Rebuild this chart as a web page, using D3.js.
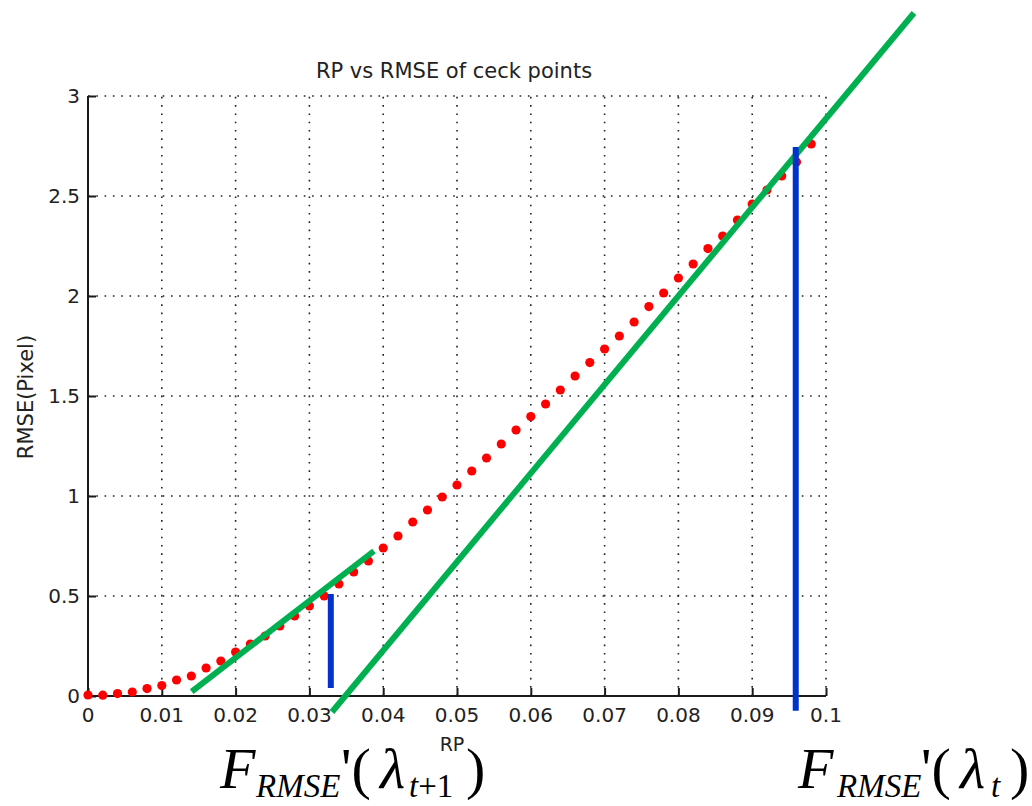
<!DOCTYPE html>
<html>
<head>
<meta charset="utf-8">
<script src="https://cdn.jsdelivr.net/npm/d3@7"></script>
<style>
  body { margin: 0; background: white; }
</style>
</head>
<body>
<div id="chart"></div>
<script>
// check point data
let rp = [0, 0.002, 0.004, 0.006, 0.008, 0.010, 0.012, 0.014, 0.016, 0.018,
  0.020, 0.022, 0.024, 0.026, 0.028, 0.030, 0.032, 0.034, 0.036, 0.038,
  0.040, 0.042, 0.044, 0.046, 0.048, 0.050, 0.052, 0.054, 0.056, 0.058,
  0.060, 0.062, 0.064, 0.066, 0.068, 0.070, 0.072, 0.074, 0.076, 0.078,
  0.080, 0.082, 0.084, 0.086, 0.088, 0.090, 0.092, 0.094, 0.096, 0.098];
let rmse = [0.005, 0.004, 0.012, 0.02, 0.037, 0.052, 0.08, 0.10, 0.14, 0.175,
  0.22, 0.26, 0.30, 0.35, 0.40, 0.45, 0.50, 0.56, 0.62, 0.675,
  0.74, 0.80, 0.87, 0.93, 0.995, 1.055, 1.125, 1.19, 1.26, 1.33,
  1.397, 1.46, 1.53, 1.60, 1.667, 1.735, 1.80, 1.87, 1.947, 2.015,
  2.09, 2.16, 2.237, 2.30, 2.38, 2.46, 2.53, 2.60, 2.67, 2.76];

// tangent lines (green) and derivative markers (blue), in data units
let tangents = [
  [[0.01405, 0.0215], [0.03875, 0.725]],
  [[0.03306, -0.08], [0.11192, 3.415]]
];
let markers = [
  [[0.0329, 0.51], [0.0329, 0.04]],
  [[0.0959, 2.745], [0.0959, -0.0735]]
];

let xTicks = [0, 0.01, 0.02, 0.03, 0.04, 0.05, 0.06, 0.07, 0.08, 0.09, 0.1];
let yTicks = [0, 0.5, 1, 1.5, 2, 2.5, 3];
let xTickLabels = ['0', '0.01', '0.02', '0.03', '0.04', '0.05', '0.06', '0.07', '0.08', '0.09', '0.1'];
let yTickLabels = ['0', '0.5', '1', '1.5', '2', '2.5', '3'];

let width = 1032,
  height = 806,
  margin = { top: 96, bottom: 110, left: 88, right: 206 };

let x = d3.scaleLinear()
  .domain([0, 0.1])
  .range([margin.left, width - margin.right]);
let y = d3.scaleLinear()
  .domain([0, 3])
  .range([height - margin.bottom, margin.top]);

let svg = d3.select('#chart')
  .append('svg')
    .attr('width', width)
    .attr('height', height)
    .style('background', 'white');

let axisFont = 'DejaVu Sans, Liberation Sans, sans-serif';

// dotted grid
svg.append('g')
  .selectAll('line')
  .data(xTicks.filter(d => d > 0))
  .enter()
  .append('line')
    .attr('x1', d => x(d)).attr('x2', d => x(d))
    .attr('y1', y(0)).attr('y2', y(3))
    .attr('stroke', '#222')
    .attr('stroke-width', 1.6)
    .attr('stroke-dasharray', '1.6,6.7');

svg.append('g')
  .selectAll('line')
  .data(yTicks.filter(d => d > 0))
  .enter()
  .append('line')
    .attr('x1', x(0)).attr('x2', x(0.1))
    .attr('y1', d => y(d)).attr('y2', d => y(d))
    .attr('stroke', '#222')
    .attr('stroke-width', 1.6)
    .attr('stroke-dasharray', '1.6,6.7');

// axes, ticks pointing inward like matlab
let xAxis = svg.append('g')
  .attr('transform', 'translate(0,' + y(0) + ')')
  .call(d3.axisTop(x).tickValues(xTicks).tickSize(8).tickFormat(''));
let yAxis = svg.append('g')
  .attr('transform', 'translate(' + x(0) + ',0)')
  .call(d3.axisRight(y).tickValues(yTicks).tickSize(8).tickFormat(''));

[xAxis, yAxis].forEach(function(a) {
  a.select('.domain').attr('stroke', '#1a1a1a').attr('stroke-width', 2);
  a.selectAll('.tick line').attr('stroke', '#1a1a1a').attr('stroke-width', 2);
});
xAxis.select('.domain').attr('d', 'M' + x(0) + ',0H' + x(0.1));
yAxis.select('.domain').attr('d', 'M0,' + y(0) + 'V' + y(3));

// tick labels
svg.append('g')
  .selectAll('text')
  .data(xTicks)
  .enter()
  .append('text')
    .attr('x', d => x(d))
    .attr('y', y(0) + 26)
    .attr('text-anchor', 'middle')
    .style('font-family', axisFont)
    .style('font-size', '20px')
    .style('fill', '#222')
    .text((d, i) => xTickLabels[i]);

svg.append('g')
  .selectAll('text')
  .data(yTicks)
  .enter()
  .append('text')
    .attr('x', x(0) - 8)
    .attr('y', d => y(d) + 7)
    .attr('text-anchor', 'end')
    .style('font-family', axisFont)
    .style('font-size', '20px')
    .style('fill', '#222')
    .text((d, i) => yTickLabels[i]);

// title and axis labels
svg.append('text')
  .attr('x', (x(0) + x(0.1)) / 2 - 3)
  .attr('y', 78)
  .attr('text-anchor', 'middle')
  .style('font-family', axisFont)
  .style('font-size', '21px')
  .style('fill', '#222')
  .text('RP vs RMSE of ceck points');

svg.append('text')
  .attr('x', (x(0) + x(0.1)) / 2 - 5)
  .attr('y', 751)
  .attr('text-anchor', 'middle')
  .style('font-family', axisFont)
  .style('font-size', '19px')
  .style('fill', '#222')
  .text('RP');

svg.append('text')
  .attr('transform', 'translate(33,' + (y(1.5) + 1) + ') rotate(-90)')
  .attr('text-anchor', 'middle')
  .style('font-family', axisFont)
  .style('font-size', '21px')
  .style('fill', '#222')
  .text('RMSE(Pixel)');

// red check points
svg.append('g')
  .selectAll('circle')
  .data(rp)
  .enter()
  .append('circle')
    .attr('cx', d => x(d))
    .attr('cy', (d, i) => y(rmse[i]))
    .attr('r', 4.6)
    .style('fill', '#ff0000');

let line = d3.line().x(d => x(d[0])).y(d => y(d[1]));

svg.append('g')
  .selectAll('path')
  .data(tangents)
  .enter()
  .append('path')
    .attr('d', line)
    .attr('stroke', '#00b050')
    .attr('stroke-width', 6)
    .attr('fill', 'none');

svg.append('g')
  .selectAll('path')
  .data(markers)
  .enter()
  .append('path')
    .attr('d', line)
    .attr('stroke', '#0033cc')
    .attr('stroke-width', 6)
    .attr('fill', 'none');

// formula annotations
let serif = 'Liberation Serif, Times New Roman, serif';
function formula(pos, sub) {
  let t = svg.append('text')
    .attr('y', 788)
    .style('font-family', serif)
    .style('fill', 'black');
  t.append('tspan').attr('x', pos[0]).style('font-size', '58px').style('font-style', 'italic').text('F');
  t.append('tspan').attr('x', pos[1]).attr('y', 797).style('font-size', '33px').style('font-style', 'italic').text('RMSE');
  t.append('tspan').attr('x', pos[2]).attr('y', 788).style('font-size', '58px').text("'(");
  t.append('tspan').attr('x', pos[3]).style('font-size', '58px').style('font-style', 'italic').text('λ');
  let s = t.append('tspan').attr('x', pos[4]).attr('y', 797).style('font-size', '33px');
  s.append('tspan').style('font-style', 'italic').text('t');
  if (sub) s.append('tspan').text(sub);
  t.append('tspan').attr('x', pos[5]).attr('y', 788).style('font-size', '58px').text(')');
}
formula([220, 256, 341, 380, 409, 466], '+1');
formula([798, 837, 921, 960, 991, 1010], '');
</script>
</body>
</html>
